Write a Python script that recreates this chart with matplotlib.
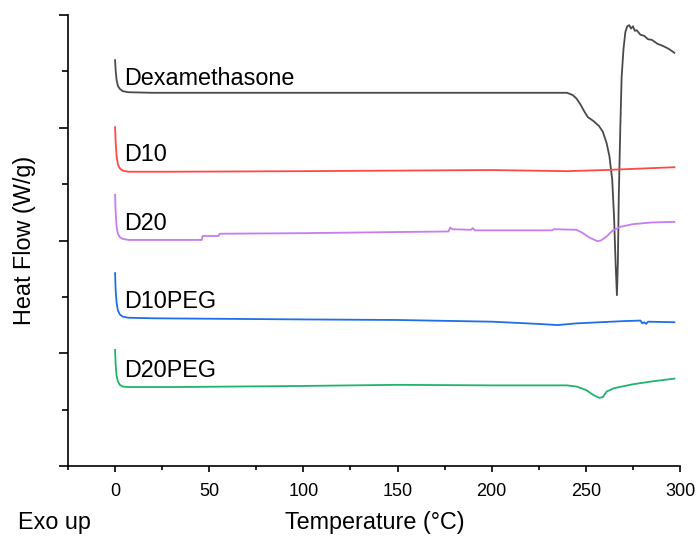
import numpy as np
import matplotlib
matplotlib.use("Agg")
import matplotlib.pyplot as plt
from matplotlib.ticker import MultipleLocator

plt.rcParams['font.family'] = ['Liberation Sans', 'DejaVu Sans']

# DSC thermograms, heat flow in arbitrary offset units
dex_T = [0, 0.3, 0.8, 1.5, 2.5, 4, 7, 20, 100, 200, 235, 240, 243, 245, 247, 249, 251,
         254, 257, 259, 261, 262.5, 264, 265, 265.8, 266.5, 267, 267.5, 268.3, 269, 270,
         271, 272, 273, 274, 275, 276, 277, 279, 281, 283, 285, 288, 291, 294, 297]
dex_y = [7.20, 7.02, 6.85, 6.74, 6.69, 6.65, 6.63, 6.62, 6.62, 6.62, 6.62, 6.62, 6.58,
         6.52, 6.42, 6.30, 6.19, 6.12, 6.03, 5.93, 5.73, 5.50, 5.08, 4.40, 3.60, 3.03,
         3.60, 4.80, 6.00, 6.90, 7.40, 7.70, 7.80, 7.82, 7.76, 7.80, 7.72, 7.73, 7.65,
         7.63, 7.57, 7.56, 7.49, 7.45, 7.40, 7.33]

d10_T = [0, 0.3, 0.8, 1.5, 2.5, 4, 7, 30, 100, 150, 200, 240, 260, 297]
d10_y = [6.01, 5.75, 5.50, 5.35, 5.28, 5.24, 5.22, 5.22, 5.23, 5.24, 5.25, 5.23, 5.25, 5.30]

d20_T = [0, 0.3, 0.8, 1.5, 2.5, 4, 7, 46, 46.5, 55, 55.5, 100, 150, 177, 178, 179, 189,
         190, 191, 232, 233, 245, 248, 252, 256, 258, 261, 264, 268, 275, 285, 297]
d20_y = [4.81, 4.50, 4.25, 4.12, 4.06, 4.03, 4.01, 4.01, 4.08, 4.08, 4.12, 4.13, 4.15,
         4.16, 4.23, 4.20, 4.19, 4.22, 4.18, 4.18, 4.20, 4.19, 4.14, 4.05, 3.99, 4.00,
         4.07, 4.17, 4.24, 4.29, 4.32, 4.33]

d10peg_T = [0, 0.3, 0.8, 1.5, 2.5, 4, 7, 20, 100, 150, 200, 225, 235, 245, 270, 279,
            280, 281, 282, 283, 297]
d10peg_y = [3.42, 3.12, 2.90, 2.76, 2.69, 2.65, 2.63, 2.62, 2.60, 2.59, 2.56, 2.52, 2.50,
            2.53, 2.57, 2.58, 2.53, 2.55, 2.52, 2.56, 2.55]

d20peg_T = [0, 0.3, 0.8, 1.5, 2.5, 4, 7, 30, 100, 150, 200, 240, 245, 250, 254, 257, 259,
            261, 265, 275, 285, 297]
d20peg_y = [2.06, 1.80, 1.60, 1.50, 1.44, 1.41, 1.40, 1.40, 1.42, 1.44, 1.43, 1.43, 1.41,
            1.35, 1.26, 1.21, 1.22, 1.32, 1.38, 1.45, 1.50, 1.55]

names = ["Dexamethasone", "D10", "D20", "D10PEG", "D20PEG"]
label_y = [6.88, 5.52, 4.31, 2.91, 1.70]
colors = ["#4a4a4a", "#ff4848", "#c77cf0", "#1f6fe6", "#1fb46c"]

fig = plt.figure(figsize=(6.99, 5.36), dpi=100)
ax = fig.add_axes([68 / 699, 1 - 466 / 536, 612 / 699, 451 / 536])

series = [(dex_T, dex_y), (d10_T, d10_y), (d20_T, d20_y),
          (d10peg_T, d10peg_y), (d20peg_T, d20peg_y)]
for (T, y), name, c, ly in zip(series, names, colors, label_y):
    ax.plot(T, y, color=c, lw=1.3)
    ax.text(5, ly, name, color="black", fontsize=16.8, va="center", ha="left")

ax.set_xlim(-25, 300)
ax.set_ylim(0, 8)
ax.xaxis.set_major_locator(MultipleLocator(50))
ax.xaxis.set_minor_locator(MultipleLocator(25))
ax.yaxis.set_major_locator(MultipleLocator(2))
ax.yaxis.set_minor_locator(MultipleLocator(1))
ax.set_yticklabels([])
ax.tick_params(axis="x", which="major", length=4, width=1.2, labelsize=13, pad=8)
ax.tick_params(axis="x", which="minor", length=3, width=1.2)
ax.tick_params(axis="y", which="major", length=6.5, width=1.2)
ax.tick_params(axis="y", which="minor", length=4.5, width=1.2)
for s in ["top", "right"]:
    ax.spines[s].set_visible(False)
for s in ["left", "bottom"]:
    ax.spines[s].set_linewidth(1.2)

ax.set_ylabel("Heat Flow (W/g)", fontsize=16.8)
ax.yaxis.set_label_coords(-0.052, 0.5)
fig.text(375 / 699, 1 - 522 / 536, "Temperature (°C)", fontsize=16.8, ha="center", va="center")
fig.text(18 / 699, 1 - 522 / 536, "Exo up", fontsize=16.8, ha="left", va="center")

fig.savefig("out.png", dpi=100)
